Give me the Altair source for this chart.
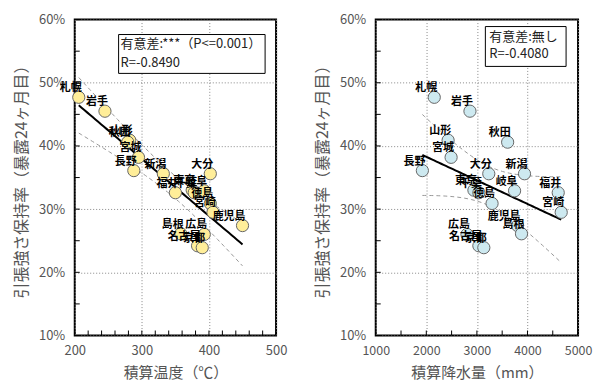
import altair as alt
import numpy as np
import pandas as pd

# Retention of tensile strength after 24 months of exposure, by site
cities = ["札幌", "岩手", "山形", "秋田", "宮城", "長野", "新潟", "大分", "福井", "東京",
          "千葉", "岐阜", "徳島", "宮崎", "鹿児島", "島根", "広島", "名古屋", "京都"]
retention = [47.7, 45.5, 40.9, 40.6, 38.2, 36.1, 35.6, 35.6, 32.6, 33.0,
             32.6, 32.9, 30.9, 29.5, 27.4, 26.1, 26.0, 24.2, 23.9]
heat_sum = [206, 245, 282, 279, 295, 288, 332, 402, 350, 375,
            378, 393, 402, 406, 450, 358, 393, 383, 390]
rain_sum = [2157, 2863, 2431, 3608, 2490, 1922, 3941, 3235, 4608, 2941,
            3039, 3745, 3300, 4667, 3804, 3882, 2804, 3039, 3137]

y_ticks = [10, 15, 20, 25, 30, 35, 40, 45, 50, 55, 60]
y_labels = [10, 20, 30, 40, 50, 60]
heat_ticks = list(range(200, 501, 20))
heat_labels = [200, 300, 400, 500]
rain_ticks = list(range(1000, 5001, 500))
rain_labels = [1000, 2000, 3000, 4000, 5000]

Y_TITLE = "引張強さ保持率（暴露24ヶ月目）"
FONT = "Noto Sans CJK JP"
T95 = 2.110  # Student t, 17 degrees of freedom

PAGE_W, PAGE_H = 593, 381
LEFT, TOP = 74, 18
W_L, W_R, H = 202, 203, 317
GAP = 100


def regression_frames(x, y, n=60):
    x = np.asarray(x, float)
    y = np.asarray(y, float)
    b, a = np.polyfit(x, y, 1)
    xs = np.linspace(x.min(), x.max(), n)
    fit = a + b * xs
    resid = y - (a + b * x)
    s = np.sqrt((resid ** 2).sum() / (len(x) - 2))
    se = s * np.sqrt(1 / len(x) + (xs - x.mean()) ** 2 / ((x - x.mean()) ** 2).sum())
    return pd.DataFrame({"x": xs, "fit": fit, "lo": fit - T95 * se, "hi": fit + T95 * se})


def panel(xvals, xdomain, xlabels, xticks, xtitle, width, fill, note1, note2, box, text_x, text_y,
          xlabel_size=13, canvas=None):
    pts = pd.DataFrame({"x": xvals, "y": retention, "name": cities})
    reg = regression_frames(xvals, retention)
    xs = alt.Scale(domain=xdomain, nice=False, zero=False, padding=0)
    ys = alt.Scale(domain=[10, 60], nice=False, zero=False, padding=0)

    ax_x = alt.Axis(values=xlabels, grid=True, ticks=False, domain=False, format="d",
                    labelFlush=False, labelPadding=9, labelFontSize=xlabel_size,
                    labelColor="#555", labelFont=FONT,
                    gridColor="#888", gridDash=[1, 2], gridWidth=1,
                    title=xtitle, titleFont=FONT, titleFontSize=15, titleFontWeight="normal",
                    titleColor="#555", titleY=37, titleBaseline="middle")
    ax_y = alt.Axis(values=y_labels, grid=True, ticks=False, domain=False,
                    labelFlush=False, labelPadding=10, labelFontSize=13,
                    labelColor="#555", labelFont=FONT,
                    labelExpr="datum.value + '%'",
                    gridColor="#888", gridDash=[1, 2], gridWidth=1,
                    title=Y_TITLE, titleFont=FONT, titleFontSize=16, titleFontWeight="normal",
                    titleColor="#555", titleX=-53, titleY=H / 2, titleAngle=-90,
                    titleAlign="center", titleBaseline="middle")

    def X(field):
        return alt.X(field, type="quantitative", scale=xs, axis=ax_x)

    def Y(field):
        return alt.Y(field, type="quantitative", scale=ys, axis=ax_y)

    layers = []
    one = pd.DataFrame({"k": [0]})
    if canvas is not None:
        # invisible sheet that fixes the overall page extent
        layers.append(alt.Chart(one).mark_rect(opacity=0).encode(
            x=alt.value(canvas[0]), x2=alt.value(canvas[1]),
            y=alt.value(canvas[2]), y2=alt.value(canvas[3])))

    yt = alt.Chart(pd.DataFrame({"v": y_ticks})).mark_rule(color="black", strokeWidth=1).encode(
        y=Y("v"), x=alt.value(0), x2=alt.value(5))
    xt = alt.Chart(pd.DataFrame({"v": xticks})).mark_rule(color="black", strokeWidth=1).encode(
        x=X("v"), y=alt.value(H), y2=alt.value(H - 5))

    band_hi = alt.Chart(reg).mark_line(color="#999", strokeWidth=1, strokeDash=[4, 3]).encode(
        x=X("x"), y=Y("hi"))
    band_lo = alt.Chart(reg).mark_line(color="#999", strokeWidth=1, strokeDash=[4, 3]).encode(
        x=X("x"), y=Y("lo"))
    fit_line = alt.Chart(reg).mark_line(color="black", strokeWidth=2).encode(
        x=X("x"), y=Y("fit"))

    dots = alt.Chart(pts).mark_circle(size=150, opacity=1, stroke="#666", strokeWidth=1, fill=fill).encode(
        x=X("x"), y=Y("y"))
    names = alt.Chart(pts).mark_text(font=FONT, fontSize=11, fontWeight="bold", color="black",
                                     align="right", baseline="middle", dx=3, dy=-9).encode(
        x=X("x"), y=Y("y"), text="name:N")

    rect = alt.Chart(one).mark_rect(fill="white", stroke="black", strokeWidth=1).encode(
        x=alt.value(box[0]), x2=alt.value(box[1]), y=alt.value(box[2]), y2=alt.value(box[3]))
    t1 = alt.Chart(one).mark_text(font=FONT, fontSize=13, color="#222", align="left",
                                  baseline="middle", text=note1).encode(
        x=alt.value(text_x), y=alt.value(text_y[0]))
    t2 = alt.Chart(one).mark_text(font=FONT, fontSize=13, color="#222", align="left",
                                  baseline="middle", text=note2).encode(
        x=alt.value(text_x), y=alt.value(text_y[1]))

    layers += [band_hi, band_lo, fit_line, dots, names, yt, xt, rect, t1, t2]
    return alt.layer(*layers).properties(width=width, height=H)


left = panel(heat_sum, [200, 500], heat_labels, heat_ticks, "積算温度（℃）", W_L, "#FFEE99",
             "有意差:***（P<=0.001）", "R=-0.8490", (44, 191, 15, 54), 46, (25, 44),
             canvas=(-LEFT, PAGE_W - LEFT, -TOP, PAGE_H - TOP))
right = panel(rain_sum, [1000, 5000], rain_labels, rain_ticks, "積算降水量（mm）", W_R, "#CDE9F0",
              "有意差:無し", "R=-0.4080", (110, 191, 7, 47), 114, (17, 35), xlabel_size=12.5)

chart = alt.hconcat(left, right, spacing=GAP, bounds="flush").properties(
    padding=0,
    background="white",
).configure_view(stroke="black", strokeWidth=2)

chart.save("out.html", embed_options={"renderer": "svg", "actions": False})
